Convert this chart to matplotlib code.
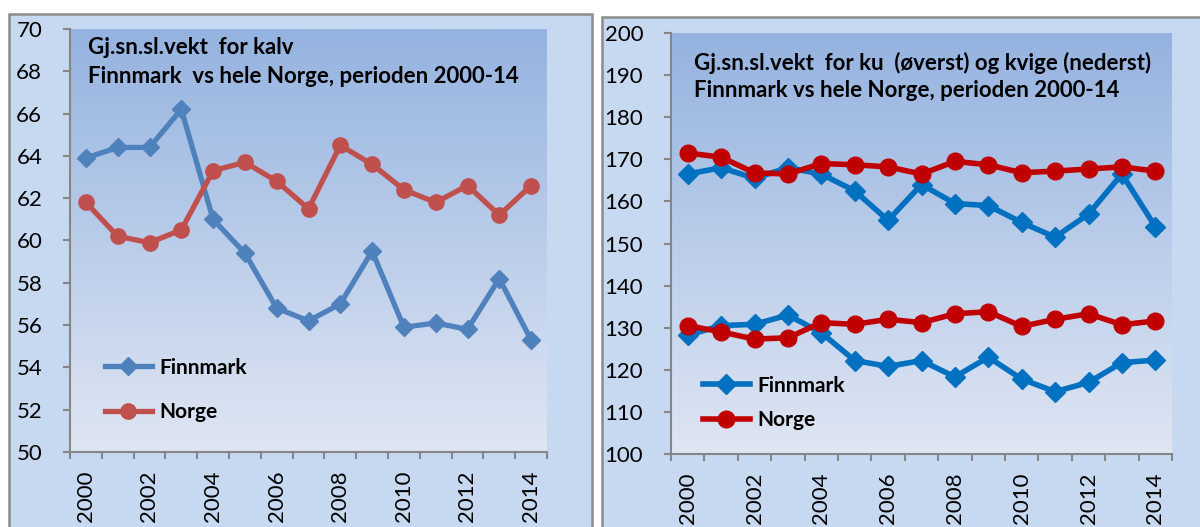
import numpy as np
import matplotlib
matplotlib.use("Agg")
import matplotlib.pyplot as plt
from matplotlib.patches import Rectangle
from matplotlib.colors import LinearSegmentedColormap

plt.rcParams['font.family'] = ['Lato', 'DejaVu Sans']

years = list(range(2000, 2015))
tick_labels = [str(y) if y % 2 == 0 else "" for y in years]

# Left panel: kalv
kalv_finnmark = [63.9, 64.4, 64.4, 66.2, 61.0, 59.4, 56.8, 56.2, 57.0, 59.5, 55.9, 56.1, 55.8, 58.2, 55.3]
kalv_norge = [61.8, 60.2, 59.9, 60.5, 63.3, 63.7, 62.8, 61.5, 64.5, 63.6, 62.4, 61.8, 62.6, 61.2, 62.6]

# Right panel: ku (upper) and kvige (lower)
ku_finnmark = [166.5, 168.0, 165.5, 168.0, 166.5, 162.5, 155.5, 164.0, 159.5, 159.0, 155.0, 151.5, 157.0, 166.5, 154.0]
ku_norge = [171.5, 170.5, 166.8, 166.5, 169.0, 168.7, 168.2, 166.5, 169.5, 168.7, 166.8, 167.2, 167.7, 168.2, 167.2]
kvige_finnmark = [128.2, 130.5, 130.8, 133.0, 128.8, 122.2, 120.8, 122.2, 118.3, 123.0, 117.8, 114.8, 117.0, 121.7, 122.3]
kvige_norge = [130.5, 129.0, 127.3, 127.6, 131.2, 130.8, 132.0, 131.2, 133.3, 133.8, 130.3, 132.0, 133.3, 130.7, 131.6]

W, H = 1200, 527
fig = plt.figure(figsize=(W / 100, H / 100), dpi=100)
fig.patch.set_facecolor('white')

def fx(px):
    return px / W

def fy(py):
    return 1 - py / H

panel_bg = '#c6d9f1'
border = '#8c8c8c'
fig.patches.append(Rectangle((fx(9), fy(540)), fx(592) - fx(9), fy(14) - fy(540),
                             transform=fig.transFigure, facecolor=panel_bg, edgecolor=border,
                             linewidth=1.8, zorder=-10))
fig.patches.append(Rectangle((fx(602), fy(540)), fx(1215) - fx(602), fy(17) - fy(540),
                             transform=fig.transFigure, facecolor=panel_bg, edgecolor=border,
                             linewidth=1.8, zorder=-10))

def make_axes(l, t, r, b):
    return fig.add_axes([fx(l), fy(b), fx(r) - fx(l), fy(t) - fy(b)])

grad = np.linspace(0, 1, 256).reshape(-1, 1)
gcmap = LinearSegmentedColormap.from_list('g', ['#95b3e0', '#dfe6f3'])

def style(ax, ylim, yticks):
    x = np.arange(len(years))
    ax.set_xlim(-0.5, len(years) - 0.5)
    ax.set_ylim(*ylim)
    ax.imshow(grad, extent=[0, 1, 0, 1], transform=ax.transAxes, aspect='auto',
              cmap=gcmap, zorder=0)
    ax.set_facecolor('none')
    for s in ['top', 'right']:
        ax.spines[s].set_visible(False)
    for s in ['left', 'bottom']:
        ax.spines[s].set_color('#868686')
        ax.spines[s].set_linewidth(1.5)
    ax.set_yticks(yticks)
    ax.set_yticklabels([str(v) for v in yticks], fontsize=16)
    ax.set_xticks(np.arange(-0.5, len(years) + 0.5, 1))
    ax.set_xticklabels([])
    ax.set_xticks(x, minor=True)
    ax.set_xticklabels(tick_labels, minor=True, rotation=90, fontsize=16)
    ax.tick_params(axis='x', which='major', direction='out', length=5, width=1.5, color='#868686')
    ax.tick_params(axis='x', which='minor', length=0, pad=13)
    ax.tick_params(axis='y', direction='out', length=5, width=1.5, color='#868686', pad=15)
    return x

# Left chart
axL = make_axes(70, 29, 547, 452)
x = style(axL, (50, 70), list(range(50, 71, 2)))
c1, c2 = '#4f81bd', '#c0504d'
axL.plot(x, kalv_finnmark, color=c1, lw=3.8, marker='D', ms=9, zorder=3, label='Finnmark')
axL.plot(x, kalv_norge, color=c2, lw=3.8, marker='o', ms=11, zorder=4, label='Norge')
fig.text(fx(88), fy(47), 'Gj.sn.sl.vekt  for kalv', fontsize=16, fontweight='bold', va='center', ha='left')
fig.text(fx(88), fy(76), 'Finnmark  vs hele Norge, perioden 2000-14', fontsize=16, fontweight='bold', va='center', ha='left')
axL.legend(loc='center left', bbox_to_anchor=(fx(105), fy(390)), bbox_transform=fig.transFigure,
           frameon=False, prop={'weight': 'bold', 'size': 15}, handlelength=2.25,
           handletextpad=0.35, labelspacing=1.18, borderpad=0, borderaxespad=0)

# Right chart
axR = make_axes(671, 33, 1172, 454)
x = style(axR, (100, 200), list(range(100, 201, 10)))
d1, d2 = '#0070c0', '#c00000'
axR.plot(x, ku_finnmark, color=d1, lw=4, marker='D', ms=10, zorder=3, label='Finnmark')
axR.plot(x, kvige_finnmark, color=d1, lw=4, marker='D', ms=10, zorder=3)
axR.plot(x, ku_norge, color=d2, lw=4, marker='o', ms=12, zorder=4, label='Norge')
axR.plot(x, kvige_norge, color=d2, lw=4, marker='o', ms=12, zorder=4)
fig.text(fx(694), fy(63), 'Gj.sn.sl.vekt  for ku  (øverst) og kvige (nederst)', fontsize=16, fontweight='bold', va='center', ha='left')
fig.text(fx(694), fy(91), 'Finnmark vs hele Norge, perioden 2000-14', fontsize=16, fontweight='bold', va='center', ha='left')
axR.legend(loc='center left', bbox_to_anchor=(fx(703), fy(403)), bbox_transform=fig.transFigure,
           frameon=False, prop={'weight': 'bold', 'size': 15}, handlelength=2.25,
           handletextpad=0.35, labelspacing=0.7, borderpad=0, borderaxespad=0)

fig.savefig('out.png', dpi=100)
